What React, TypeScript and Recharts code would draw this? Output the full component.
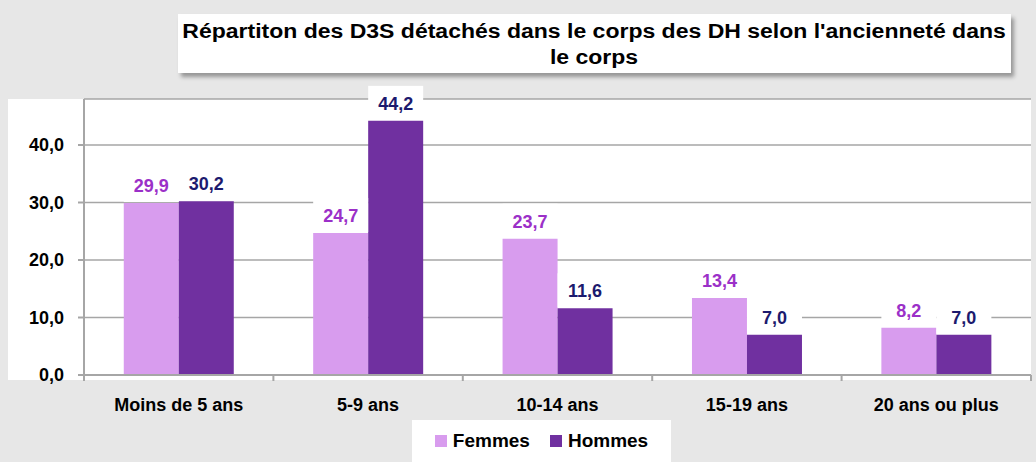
import { BarChart, Bar, XAxis, YAxis, CartesianGrid, Legend, LabelList } from 'recharts'

const categories = ['Moins de 5 ans', '5-9 ans', '10-14 ans', '15-19 ans', '20 ans ou plus']
const femmes = [29.9, 24.7, 23.7, 13.4, 8.2]
const hommes = [30.2, 44.2, 11.6, 7.0, 7.0]
const yTicks = [0, 10, 20, 30, 40]

const data = categories.map((cat, i) => ({ cat, Femmes: femmes[i], Hommes: hommes[i] }))

const FONT = '"Liberation Sans", Arial, sans-serif'
const GRID = '#a6a6a6'
const BAND_HALF = (1036 - 84 - 5) / categories.length / 2

const fmt = (v: number) => v.toFixed(1).replace('.', ',')

const makeLabel = (color: string) => (props: any) => {
    const { x, y, width, value } = props
    return <g>
        <rect x={x} y={y - 35} width={width} height={34} fill="#fff" />
        <text x={x + width / 2} y={y - 11} textAnchor="middle" fill={color}
            fontFamily={FONT} fontWeight="bold" fontSize={18}>{fmt(value)}</text>
    </g>
}

const XTick = (props: any) => {
    const { x, y, payload, index } = props
    return <g>
        <line x1={x - BAND_HALF} x2={x - BAND_HALF} y1={y - 6} y2={y} stroke={GRID} strokeWidth={2} />
        {index === categories.length - 1 &&
            <line x1={x + BAND_HALF} x2={x + BAND_HALF} y1={y - 6} y2={y} stroke={GRID} strokeWidth={2} />}
        <text x={x} y={y + 30} textAnchor="middle" fill="#000" fontFamily={FONT} fontWeight="bold" fontSize={18}>
            {payload.value}
        </text>
    </g>
}

const LegendBox = () => (
    <div style={{ display: 'flex', justifyContent: 'center', alignItems: 'center', height: 42, gap: 20,
        fontFamily: FONT, fontWeight: 'bold', fontSize: 19, color: '#000' }}>
        {[['Femmes', '#d89cee'], ['Hommes', '#7030a0']].map(([name, c]) => (
            <span key={name} style={{ display: 'flex', alignItems: 'center' }}>
                <span style={{ width: 12, height: 12, background: c, marginRight: 6, display: 'inline-block' }} />
                {name}
            </span>
        ))}
    </div>
)

export default function App() {
    return (
        <div style={{ position: 'absolute', left: 0, top: 0, width: 1036, height: 462, background: '#e7e7e7' }}>
            <div style={{ position: 'absolute', left: 8, top: 99, width: 1023, height: 281, background: '#fff' }} />
            <div style={{ position: 'absolute', left: 178, top: 14, width: 833, height: 59, background: '#fff',
                boxShadow: '3px 4px 4px rgba(0,0,0,0.35)', display: 'flex', alignItems: 'center', justifyContent: 'center',
                textAlign: 'center', fontFamily: FONT, fontWeight: 'bold', fontSize: 20, lineHeight: '26px', color: '#000' }}>
                <span style={{ display: 'inline-block', transform: 'scaleX(1.15)', whiteSpace: 'nowrap' }}>
                    Répartiton des D3S détachés dans le corps des DH selon l'ancienneté dans<br />le corps
                </span>
            </div>
            <div style={{ position: 'absolute', left: 0, top: 0 }}>
                <BarChart width={1036} height={462} data={data}
                    margin={{ top: 99, right: 5, bottom: 0, left: 8 }}
                    barCategoryGap="21%" barGap={0}>
                    <CartesianGrid vertical={false} stroke={GRID} strokeWidth={1.5} />
                    <XAxis dataKey="cat" height={45} tickSize={6} tickMargin={0} tickLine={false}
                        axisLine={{ stroke: GRID, strokeWidth: 2 }} tick={<XTick />} interval={0} />
                    <YAxis domain={[0, 48]} ticks={yTicks} width={76} tickSize={6} tickMargin={14}
                        tickFormatter={fmt} axisLine={{ stroke: GRID, strokeWidth: 2 }}
                        tickLine={{ stroke: GRID, strokeWidth: 2 }}
                        tick={{ fill: '#000', fontFamily: FONT, fontWeight: 'bold', fontSize: 18 }} />
                    <Legend verticalAlign="bottom" content={<LegendBox />}
                        wrapperStyle={{ left: 412, width: 259, height: 42, background: '#fff' }} />
                    <Bar dataKey="Femmes" fill="#d89cee" isAnimationActive={false}>
                        <LabelList dataKey="Femmes" content={makeLabel('#9b30c8')} />
                    </Bar>
                    <Bar dataKey="Hommes" fill="#7030a0" isAnimationActive={false}>
                        <LabelList dataKey="Hommes" content={makeLabel('#1c1a6e')} />
                    </Bar>
                </BarChart>
            </div>
        </div>
    )
}
